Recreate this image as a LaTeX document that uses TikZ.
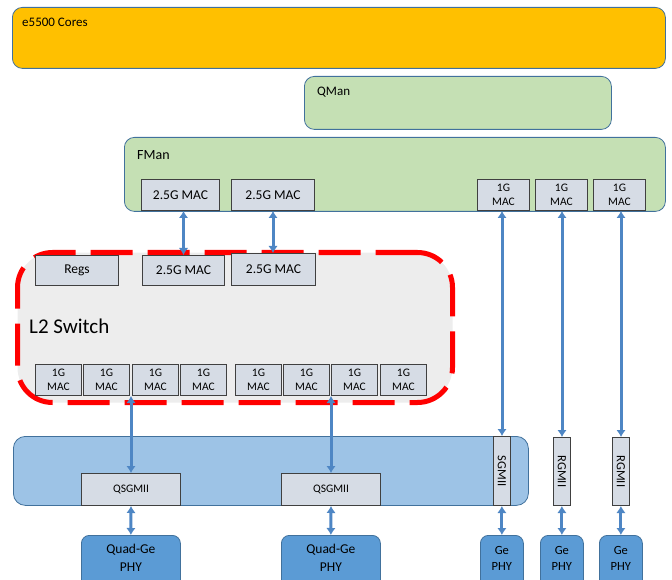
\documentclass[tikz,border=0pt]{standalone}
\usepackage{fontspec}
\usepackage{graphicx}
\setmainfont{Carlito}
\usetikzlibrary{positioning,arrows.meta}

\definecolor{coreorange}{RGB}{255,192,0}
\definecolor{mangreen}{RGB}{197,224,180}
\definecolor{boxline}{RGB}{65,113,156}
\definecolor{macfill}{RGB}{214,220,229}
\definecolor{macline}{RGB}{64,64,64}
\definecolor{switchgray}{RGB}{237,237,237}
\definecolor{serdesblue}{RGB}{157,195,230}
\definecolor{phyblue}{RGB}{91,155,213}
\definecolor{linkblue}{RGB}{78,134,196}

\tikzset{
  block/.style={draw=boxline, line width=0.8pt, rounded corners=10pt, anchor=north west, inner sep=0pt},
  mac/.style={draw=macline, fill=macfill, line width=1pt, anchor=north west, inner sep=0pt, align=center,
    font=\fontsize{13.5}{15}\selectfont},
  smallmac/.style={mac, font=\fontsize{11.5}{14}\selectfont},
  phy/.style={draw=boxline, fill=phyblue, line width=0.8pt, rounded corners=8pt, anchor=north west,
    inner sep=0pt, align=center, minimum height=60},
  title/.style={anchor=west, inner sep=0pt},
  link/.style={linkblue, line width=3pt, {Latex[length=7pt,width=9.5pt]}-{Latex[length=7pt,width=9.5pt]}},
}

\begin{document}
\begin{tikzpicture}[x=1pt,y=-1pt]
  \clip (0,0) rectangle (672,580);

  % cores and managers
  \node[block, fill=coreorange, minimum width=653, minimum height=61] (cores) at (12,7) {};
  \node[title, font=\fontsize{13}{15}\selectfont] (corestxt) at (22,22) {e5500 Cores};
  \node[block, fill=mangreen, minimum width=307, minimum height=53] (qman) at (304,76) {};
  \node[title, font=\fontsize{13}{15}\selectfont] (qmantxt) at (317,92) {QMan};
  \node[block, fill=mangreen, minimum width=541, minimum height=74] (fman) at (124,137) {};
  \node[title, font=\fontsize{14}{16}\selectfont] (fmantxt) at (137,155) {FMan};

  \node[mac, minimum width=78, minimum height=31] (fmac1) at (141,179) {2.5G MAC};
  \node[mac, minimum width=83, minimum height=31] (fmac2) at (231,179) {2.5G MAC};
  \foreach \x [count=\i] in {477,535,593}
    \node[smallmac, minimum width=52, minimum height=31] (fgmac\i) at (\x,179) {1G\\MAC};

  % L2 switch
  \node[anchor=north west, draw=red, fill=switchgray, line width=5pt, dash pattern=on 42pt off 15pt,
    rounded corners=35pt, minimum width=435, minimum height=150] (l2) at (15,250) {};
  \node[title, font=\fontsize{21}{24}\selectfont] (l2txt) at (29,326) {L2 Switch};
  \node[mac, minimum width=83, minimum height=30] (regs) at (35,255) {Regs};
  \node[mac, minimum width=82, minimum height=30] (swmac1) at (142,255) {2.5G MAC};
  \node[mac, minimum width=84, minimum height=32] (swmac2) at (231,253) {2.5G MAC};
  \foreach \x [count=\i] in {35,83,132,180,235,283,331,380}
    \node[smallmac, minimum width=46, minimum height=31] (swgmac\i) at (\x,364) {1G\\MAC};

  % serdes
  \node[block, fill=serdesblue, rounded corners=12pt, minimum width=515, minimum height=69] (serdes) at (13,436) {};
  \node[smallmac, minimum width=99, minimum height=32] (qsg1) at (81,473) {QSGMII};
  \node[smallmac, minimum width=99, minimum height=32] (qsg2) at (281,473) {QSGMII};
  \node[smallmac, font=\fontsize{12.5}{14}\selectfont, minimum width=17, minimum height=69] (sgmii) at (493,436) {\rotatebox{-90}{SGMII}};
  \node[smallmac, font=\fontsize{12.5}{14}\selectfont, minimum width=17, minimum height=68] (rgmii1) at (553,437) {\rotatebox{-90}{RGMII}};
  \node[smallmac, font=\fontsize{12.5}{14}\selectfont, minimum width=17, minimum height=68] (rgmii2) at (612,437) {\rotatebox{-90}{RGMII}};

  % phys
  \node[phy, font=\fontsize{13.5}{18}\selectfont, minimum width=99] (qphy1) at (81,535) {Quad-Ge\\PHY\rule[-16pt]{0pt}{16pt}};
  \node[phy, font=\fontsize{13.5}{18}\selectfont, minimum width=99] (qphy2) at (281,535) {Quad-Ge\\PHY\rule[-16pt]{0pt}{16pt}};
  \foreach \x [count=\i] in {480,540,599}
    \node[phy, font=\fontsize{12.5}{16}\selectfont, minimum width=43] (gphy\i) at (\x,535) {Ge\\PHY\rule[-14pt]{0pt}{14pt}};

  % links
  \draw[link] (fmac1.south -| swmac1.north) -- (swmac1.north);
  \draw[link] (fmac2.south) -- (fmac2.south |- swmac2.north);
  \draw[link] (qsg1.north |- swgmac2.south) -- (qsg1.north);
  \draw[link] (qsg2.north |- swgmac6.south) -- (qsg2.north);
  \draw[link] (sgmii.north |- fgmac1.south) -- (sgmii.north);
  \draw[link] (rgmii1.north |- fgmac2.south) -- (rgmii1.north);
  \draw[link] (rgmii2.north |- fgmac3.south) -- (rgmii2.north);
  \draw[link] (qsg1.south) -- (qphy1.north);
  \draw[link] (qsg2.south) -- (qphy2.north);
  \draw[link] (gphy1.north |- sgmii.south) -- (gphy1.north);
  \draw[link] (gphy2.north |- rgmii1.south) -- (gphy2.north);
  \draw[link] (gphy3.north |- rgmii2.south) -- (gphy3.north);
\end{tikzpicture}
\end{document}
